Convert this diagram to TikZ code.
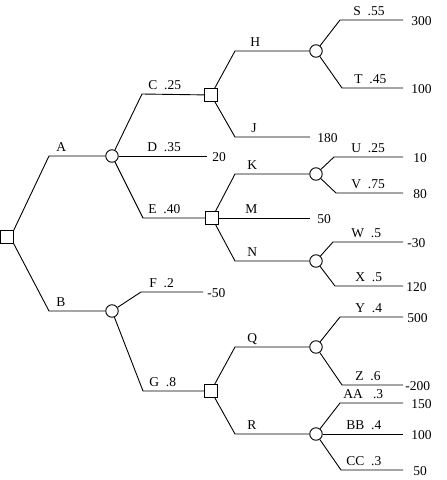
\documentclass[tikz,border=0pt]{standalone}
\usepackage{fontspec}
\setmainfont{Liberation Serif}
\begin{document}
\begin{tikzpicture}[x=1pt,y=-1pt,line width=0.9pt,
  dec/.style={draw,rectangle,minimum size=12.5pt,inner sep=0pt,fill=white},
  chance/.style={draw,circle,minimum size=12.5pt,inner sep=0pt,fill=white},
  lbl/.style={anchor=base west,inner sep=0pt,font=\fontsize{13.5}{15}\selectfont},
  pay/.style={anchor=west,inner sep=0pt,font=\fontsize{13.5}{15}\selectfont}]
\useasboundingbox (0,0) rectangle (447,480);
% nodes
\node[dec] (root) at (7,237) {};
\node[chance] (cA) at (112,156) {};
\node[chance] (cB) at (112,311) {};
\node[dec] (sC) at (211,95) {};
\node[dec] (sE) at (212,218) {};
\node[dec] (sG) at (211,391) {};
\node[chance] (cH) at (316,51) {};
\node[chance] (cK) at (316,174) {};
\node[chance] (cN) at (316,261) {};
\node[chance] (cQ) at (316,347) {};
\node[chance] (cR) at (316,434) {};
% end coordinates
\coordinate (eD) at (207,156);
\coordinate (eJ) at (310,137);
\coordinate (eM) at (310,218);
\coordinate (eF) at (203,292);
\coordinate (eS) at (403,20);
\coordinate (eT) at (403,88);
\coordinate (eU) at (403,157);
\coordinate (eV) at (403,193);
\coordinate (eW) at (403,242);
\coordinate (eX) at (403,286);
\coordinate (eY) at (403,317);
\coordinate (eZ) at (403,385);
\coordinate (eAA) at (403,403);
\coordinate (eBB) at (403,434);
\coordinate (eCC) at (403,470);
% connectors
\draw (root.north east) -- (49,156) -- (cA);
\draw (root.south east) -- (49,311) -- (cB);
\draw (cA) -- (142,94) -- (sC);
\draw (cA) -- (eD);
\draw (cA) -- (143,218) -- (sE);
\draw (cB) -- (141,292) -- (eF);
\draw (cB) -- (143,391) -- (sG);
\draw (sC) -- (235,51) -- (cH);
\draw (sC) -- (235,137) -- (eJ);
\draw (sE) -- (235,174) -- (cK);
\draw (sE) -- (eM);
\draw (sE) -- (235,261) -- (cN);
\draw (sG) -- (235,347) -- (cQ);
\draw (sG) -- (235,434) -- (cR);
\draw (cH) -- (340,20) -- (eS);
\draw (cH) -- (342,88) -- (eT);
\draw (cK) -- (334,157) -- (eU);
\draw (cK) -- (336,193) -- (eV);
\draw (cN) -- (333,242) -- (eW);
\draw (cN) -- (335,286) -- (eX);
\draw (cQ) -- (340,317) -- (eY);
\draw (cQ) -- (342,385) -- (eZ);
\draw (cR) -- (340,403) -- (eAA);
\draw (cR) -- (eBB);
\draw (cR) -- (341,470) -- (eCC);
% branch labels
\node[lbl] (lA) at (56,151) {A};
\node[lbl] (lB) at (56,306) {B};
\node[lbl] (lC) at (148,89) {C\ \ .25};
\node[lbl] (lD) at (147,151) {D\ \ .35};
\node[lbl] (lE) at (148,213) {E\ \ .40};
\node[lbl] (lF) at (149,287) {F\ \ .2};
\node[lbl] (lG) at (149,386) {G\ \ .8};
\node[lbl] (lH) at (250,46) {H};
\node[lbl] (lJ) at (251,132) {J};
\node[lbl] (lK) at (247,169) {K};
\node[lbl] (lM) at (245,213) {M};
\node[lbl] (lN) at (247,256) {N};
\node[lbl] (lQ) at (247,342) {Q};
\node[lbl] (lR) at (247,429) {R};
\node[lbl] (lS) at (353,15) {S\ \ .55};
\node[lbl] (lT) at (354,83) {T\ \ .45};
\node[lbl] (lU) at (351,152) {U\ \ .25};
\node[lbl] (lV) at (351,188) {V\ \ .75};
\node[lbl] (lW) at (351,237) {W\ \ .5};
\node[lbl] (lX) at (355,281) {X\ \ .5};
\node[lbl] (lY) at (355,312) {Y\ \ .4};
\node[lbl] (lZ) at (355,380) {Z\ \ .6};
\node[lbl] (lAA) at (343,398) {AA\ \ \ .3};
\node[lbl] (lBB) at (346,429) {BB\ \ .4};
\node[lbl] (lCC) at (346,465) {CC\ \ .3};
% payoffs
\node[pay] (p20) at (212,157) {20};
\node[pay] (p180) at (317,138) {180};
\node[pay] (p50a) at (317,219) {50};
\node[pay] (pm50) at (207,293) {-50};
\node[pay] (p300) at (411,21) {300};
\node[pay] (p100a) at (411,89) {100};
\node[pay] (p10) at (413,158) {10};
\node[pay] (p80) at (413,194) {80};
\node[pay] (pm30) at (407,243) {-30};
\node[pay] (p120) at (406,287) {120};
\node[pay] (p500) at (407,318) {500};
\node[pay] (pm200) at (405,386) {-200};
\node[pay] (p150) at (411,404) {150};
\node[pay] (p100b) at (411,435) {100};
\node[pay] (p50b) at (413,471) {50};
\end{tikzpicture}
\end{document}
